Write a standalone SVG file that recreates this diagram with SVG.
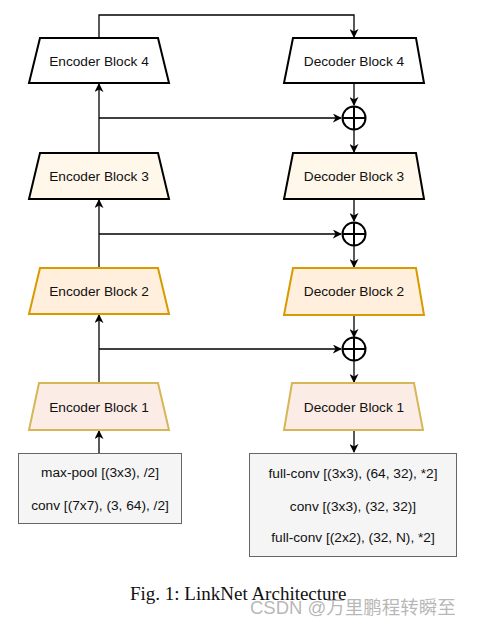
<svg xmlns="http://www.w3.org/2000/svg" width="478" height="625" viewBox="0 0 478 625">
<style>
.lbl{font-family:"Liberation Sans",Arial,sans-serif;font-size:13.7px;fill:#111;text-anchor:middle;dominant-baseline:central}
.blk{stroke-width:2;stroke-linejoin:miter}
.w{fill:#fff;stroke:#000}
.c{fill:#fff7e9;stroke:#000}
.o{fill:#ffefdc;stroke:#d79b00}
.p{fill:#fcece6;stroke:#d6b656}
.box{fill:#f5f5f5;stroke:#666;stroke-width:1}
.ln{fill:none;stroke:#000;stroke-width:1.3}
.sum{fill:#fff;stroke:#000;stroke-width:2}
</style>
<defs>
<marker id="ah" viewBox="0 0 10 10" refX="9" refY="5" markerWidth="9" markerHeight="9" markerUnits="userSpaceOnUse" orient="auto">
<path d="M0,0 L10,5 L0,10 L3,5 Z" fill="#000"/>
</marker>
</defs>
<rect width="478" height="625" fill="#fff"/>
<g id="connectors">
<path class="ln" d="M99,38 V15 H354 V37" marker-end="url(#ah)"/>
<path class="ln" d="M99,153 V84" marker-end="url(#ah)"/>
<path class="ln" d="M99,268 V200" marker-end="url(#ah)"/>
<path class="ln" d="M99,383 V315" marker-end="url(#ah)"/>
<path class="ln" d="M99,453 V431" marker-end="url(#ah)"/>
<path class="ln" d="M99,118 H341" marker-end="url(#ah)"/>
<path class="ln" d="M99,234 H341" marker-end="url(#ah)"/>
<path class="ln" d="M99,349 H341" marker-end="url(#ah)"/>
<path class="ln" d="M354,83 V105" marker-end="url(#ah)"/>
<path class="ln" d="M354,130 V152" marker-end="url(#ah)"/>
<path class="ln" d="M354,199 V221" marker-end="url(#ah)"/>
<path class="ln" d="M354,246 V267" marker-end="url(#ah)"/>
<path class="ln" d="M354,315 V337" marker-end="url(#ah)"/>
<path class="ln" d="M354,361 V382" marker-end="url(#ah)"/>
<path class="ln" d="M354,430 V452" marker-end="url(#ah)"/>
</g>
<g id="enc4"><polygon class="blk w" points="40,38 158,38 169,83 29,83"/><text class="lbl" x="99" y="61">Encoder Block 4</text></g>
<g id="enc3"><polygon class="blk c" points="40,153 158,153 169,199 29,199"/><text class="lbl" x="99" y="176">Encoder Block 3</text></g>
<g id="enc2"><polygon class="blk o" points="40,268 158,268 169,314 29,314"/><text class="lbl" x="99" y="291">Encoder Block 2</text></g>
<g id="enc1"><polygon class="blk p" points="39,383 158,383 169,430 29,430"/><text class="lbl" x="99" y="407">Encoder Block 1</text></g>
<g id="input"><rect class="box" x="18.5" y="453.5" width="163" height="70"/><text class="lbl" x="100" y="472">max-pool [(3x3), /2]</text><text class="lbl" x="100" y="505">conv [(7x7), (3, 64), /2]</text></g>
<g id="dec4"><polygon class="blk w" points="293,38 416,38 424,83 284,83"/><text class="lbl" x="354" y="61">Decoder Block 4</text></g>
<g id="dec3"><polygon class="blk c" points="293,153 416,153 424,199 284,199"/><text class="lbl" x="354" y="176">Decoder Block 3</text></g>
<g id="dec2"><polygon class="blk o" points="293,268 416,268 424,315 284,315"/><text class="lbl" x="354" y="291">Decoder Block 2</text></g>
<g id="dec1"><polygon class="blk p" points="292,383 414,383 423,430 284,430"/><text class="lbl" x="354" y="407">Decoder Block 1</text></g>
<g id="sum1"><circle class="sum" cx="354" cy="118" r="11.5"/><path class="ln" style="stroke-width:2" d="M342.5,118 H365.5 M354,106.5 V129.5"/></g>
<g id="sum2"><circle class="sum" cx="354" cy="234" r="11.5"/><path class="ln" style="stroke-width:2" d="M342.5,234 H365.5 M354,222.5 V245.5"/></g>
<g id="sum3"><circle class="sum" cx="354" cy="349" r="11.5"/><path class="ln" style="stroke-width:2" d="M342.5,349 H365.5 M354,337.5 V360.5"/></g>
<g id="output"><rect class="box" x="249.5" y="453.5" width="207" height="103"/><text class="lbl" x="353" y="473">full-conv [(3x3), (64, 32), *2]</text><text class="lbl" x="353" y="506">conv [(3x3), (32, 32)]</text><text class="lbl" x="353" y="537">full-conv [(2x2), (32, N), *2]</text></g>
<text x="130" y="600" font-family="'Liberation Serif','Times New Roman',serif" font-size="19" fill="#111">Fig. 1: LinkNet Architecture</text>
<text x="250" y="614" font-family="'Liberation Sans','Noto Sans CJK SC',sans-serif" font-size="18.5" fill="#aaa" fill-opacity="0.85">CSDN @万里鹏程转瞬至</text>
</svg>
